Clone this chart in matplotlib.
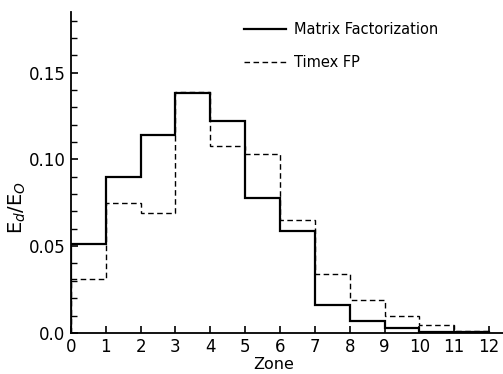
import numpy as np
import matplotlib
matplotlib.use("Agg")
import matplotlib.pyplot as plt
from matplotlib.ticker import MultipleLocator

# zone edges and energy deposition per zone
zones = np.arange(0, 13)
matrix_fact = [0.051, 0.090, 0.114, 0.138, 0.122, 0.078, 0.059, 0.016, 0.007, 0.003, 0.0006, 0.0005]
timex_fp = [0.031, 0.075, 0.069, 0.139, 0.108, 0.103, 0.065, 0.034, 0.019, 0.0095, 0.0045, 0.001]

plt.rcParams["font.family"] = ["DejaVu Sans"]
plt.rcParams["mathtext.fontset"] = "dejavusans"

fig = plt.figure(figsize=(5.03, 3.74), dpi=100)
ax = fig.add_axes([0.141, 0.110, 0.859, 0.858])

ax.stairs(matrix_fact, zones, color="black", linewidth=1.6, label="Matrix Factorization")
ax.stairs(timex_fp, zones, color="black", linewidth=1.0, linestyle=(0, (4, 2.5)), label="Timex FP")

ax.set_xlim(0, 12.4)
ax.set_ylim(0, 0.185)
ax.set_xticks(zones)
ax.set_yticks([0.0, 0.05, 0.10, 0.15])
ax.set_yticklabels(["0.0", "0.05", "0.10", "0.15"])
ax.yaxis.set_minor_locator(MultipleLocator(0.01))

for s in ["top", "right"]:
    ax.spines[s].set_visible(False)
ax.spines["left"].set_linewidth(1.3)
ax.spines["bottom"].set_linewidth(1.3)

ax.tick_params(axis="both", which="major", direction="in", length=5, width=1.2, labelsize=12, pad=4)
ax.tick_params(axis="y", which="minor", direction="in", length=4, width=1.0)

ax.set_xlabel("Zone", fontsize=11.5)
ax.set_ylabel(r"E$_d$/E$_O$", fontsize=14)
ax.xaxis.set_label_coords(0.47, -0.075)
ax.yaxis.set_label_coords(-0.10, 0.39)

ax.legend(loc="upper left", bbox_to_anchor=(0.37, 1.01), frameon=False, fontsize=10.5,
          handlelength=2.9, handletextpad=0.55, labelspacing=1.25)

fig.savefig("out.png", dpi=100)
